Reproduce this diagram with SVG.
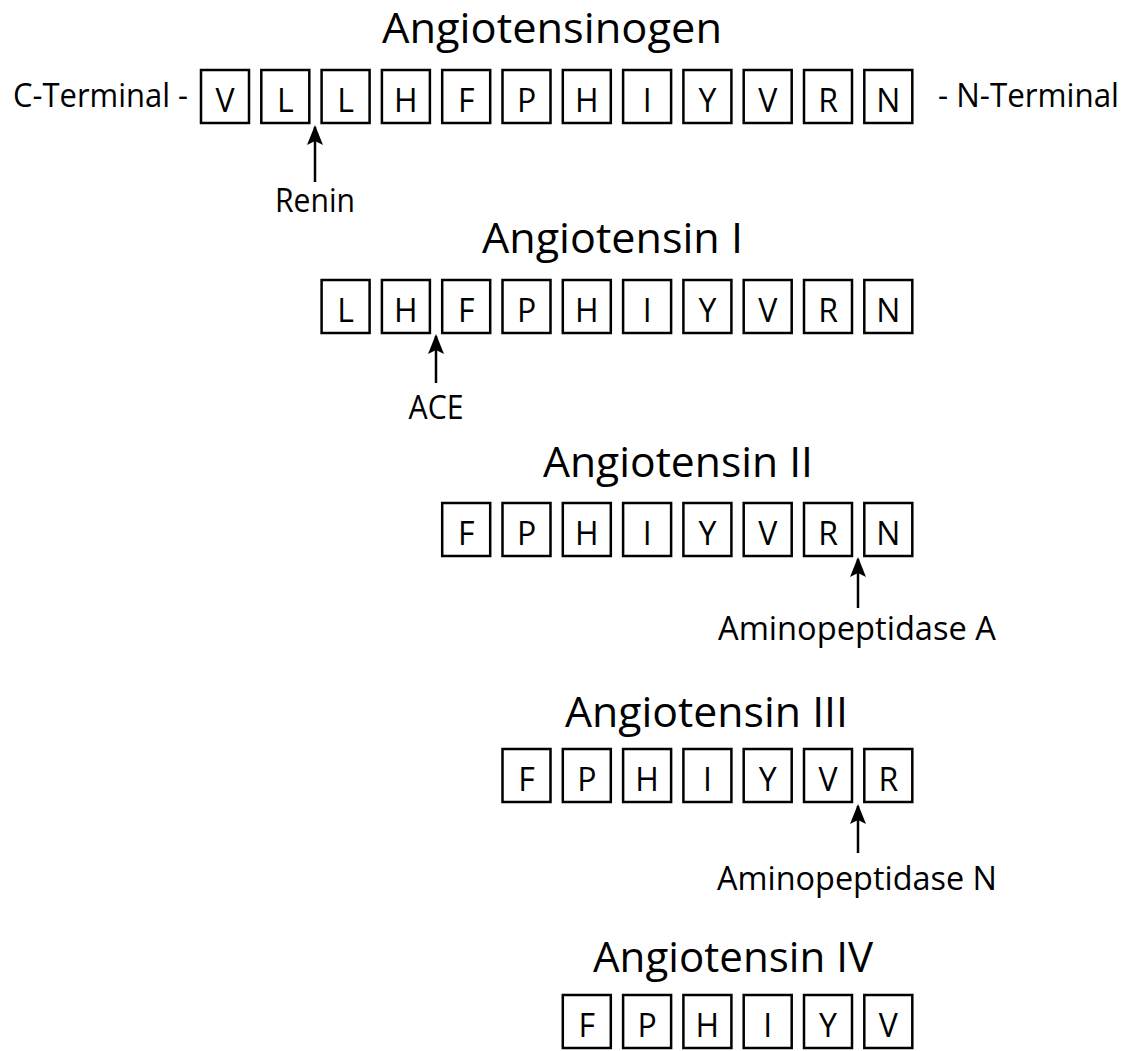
<svg xmlns="http://www.w3.org/2000/svg" width="1122" height="1051" viewBox="0 0 1122 1051">
  <style>
    .box rect { fill: #fff; stroke: #000; stroke-width: 2.5; }
    .box text { font-family: "Open Sans", "Noto Sans", sans-serif; font-size: 32px; text-anchor: middle; fill: #000; }
    .title { font-family: "Open Sans", "Noto Sans", sans-serif; font-size: 42px; fill: #000; }
    .label { font-family: "Open Sans", "Noto Sans", sans-serif; font-size: 32px; fill: #000; }
    .arrow { stroke: #000; stroke-width: 2.5; fill: none; marker-end: url(#head); }
  </style>
  <defs>
    <marker id="head" viewBox="0 0 20 16" refX="18" refY="8" markerWidth="20" markerHeight="16" markerUnits="userSpaceOnUse" orient="auto">
      <path d="M20,8 L0,0 L4,8 L0,16 Z" fill="#000"/>
    </marker>
    <!-- one residue cell: 48 x 53 -->
    <rect id="cell" width="48" height="53"/>
  </defs>
  <rect width="1122" height="1051" fill="#fff"/>

  <!-- Angiotensinogen -->
  <g id="angiotensinogen">
    <text class="title" x="382" y="43" textLength="340" lengthAdjust="spacingAndGlyphs">Angiotensinogen</text>
    <text class="label" x="13" y="107" textLength="175" lengthAdjust="spacingAndGlyphs">C-Terminal -</text>
    <text class="label" x="938" y="107" textLength="181" lengthAdjust="spacingAndGlyphs">- N-Terminal</text>
    <g class="box" transform="translate(0,70)">
      <rect x="201" width="48" height="53"/><text x="225" y="42">V</text>
      <rect x="261.3" width="48" height="53"/><text x="285.3" y="42">L</text>
      <rect x="321.6" width="48" height="53"/><text x="345.6" y="42">L</text>
      <rect x="381.9" width="48" height="53"/><text x="405.9" y="42">H</text>
      <rect x="442.2" width="48" height="53"/><text x="466.2" y="42">F</text>
      <rect x="502.5" width="48" height="53"/><text x="526.5" y="42">P</text>
      <rect x="562.8" width="48" height="53"/><text x="586.8" y="42">H</text>
      <rect x="623.1" width="48" height="53"/><text x="647.1" y="42">I</text>
      <rect x="683.4" width="48" height="53"/><text x="707.4" y="42">Y</text>
      <rect x="743.7" width="48" height="53"/><text x="767.7" y="42">V</text>
      <rect x="804" width="48" height="53"/><text x="828" y="42">R</text>
      <rect x="864.3" width="48" height="53"/><text x="888.3" y="42">N</text>
    </g>
  </g>

  <!-- Angiotensin I -->
  <g id="angiotensin-1">
    <text class="title" x="482" y="253" textLength="261" lengthAdjust="spacingAndGlyphs">Angiotensin I</text>
    <g class="box" transform="translate(0,280)">
      <rect x="321.6" width="48" height="53"/><text x="345.6" y="42">L</text>
      <rect x="381.9" width="48" height="53"/><text x="405.9" y="42">H</text>
      <rect x="442.2" width="48" height="53"/><text x="466.2" y="42">F</text>
      <rect x="502.5" width="48" height="53"/><text x="526.5" y="42">P</text>
      <rect x="562.8" width="48" height="53"/><text x="586.8" y="42">H</text>
      <rect x="623.1" width="48" height="53"/><text x="647.1" y="42">I</text>
      <rect x="683.4" width="48" height="53"/><text x="707.4" y="42">Y</text>
      <rect x="743.7" width="48" height="53"/><text x="767.7" y="42">V</text>
      <rect x="804" width="48" height="53"/><text x="828" y="42">R</text>
      <rect x="864.3" width="48" height="53"/><text x="888.3" y="42">N</text>
    </g>
  </g>

  <!-- Angiotensin II -->
  <g id="angiotensin-2">
    <text class="title" x="543" y="477" textLength="270" lengthAdjust="spacingAndGlyphs">Angiotensin II</text>
    <g class="box" transform="translate(0,503)">
      <rect x="442.2" width="48" height="53"/><text x="466.2" y="42">F</text>
      <rect x="502.5" width="48" height="53"/><text x="526.5" y="42">P</text>
      <rect x="562.8" width="48" height="53"/><text x="586.8" y="42">H</text>
      <rect x="623.1" width="48" height="53"/><text x="647.1" y="42">I</text>
      <rect x="683.4" width="48" height="53"/><text x="707.4" y="42">Y</text>
      <rect x="743.7" width="48" height="53"/><text x="767.7" y="42">V</text>
      <rect x="804" width="48" height="53"/><text x="828" y="42">R</text>
      <rect x="864.3" width="48" height="53"/><text x="888.3" y="42">N</text>
    </g>
  </g>

  <!-- Angiotensin III -->
  <g id="angiotensin-3">
    <text class="title" x="565" y="727" textLength="283" lengthAdjust="spacingAndGlyphs">Angiotensin III</text>
    <g class="box" transform="translate(0,749)">
      <rect x="502.5" width="48" height="53"/><text x="526.5" y="42">F</text>
      <rect x="562.8" width="48" height="53"/><text x="586.8" y="42">P</text>
      <rect x="623.1" width="48" height="53"/><text x="647.1" y="42">H</text>
      <rect x="683.4" width="48" height="53"/><text x="707.4" y="42">I</text>
      <rect x="743.7" width="48" height="53"/><text x="767.7" y="42">Y</text>
      <rect x="804" width="48" height="53"/><text x="828" y="42">V</text>
      <rect x="864.3" width="48" height="53"/><text x="888.3" y="42">R</text>
    </g>
  </g>

  <!-- Angiotensin IV -->
  <g id="angiotensin-4">
    <text class="title" x="593" y="972" textLength="280" lengthAdjust="spacingAndGlyphs">Angiotensin IV</text>
    <g class="box" transform="translate(0,995)">
      <rect x="562.8" width="48" height="53"/><text x="586.8" y="42">F</text>
      <rect x="623.1" width="48" height="53"/><text x="647.1" y="42">P</text>
      <rect x="683.4" width="48" height="53"/><text x="707.4" y="42">H</text>
      <rect x="743.7" width="48" height="53"/><text x="767.7" y="42">I</text>
      <rect x="804" width="48" height="53"/><text x="828" y="42">Y</text>
      <rect x="864.3" width="48" height="53"/><text x="888.3" y="42">V</text>
    </g>
  </g>

  <!-- Enzyme labels -->
  <g id="renin"><text class="label" x="315" y="212" text-anchor="middle" textLength="80" lengthAdjust="spacingAndGlyphs">Renin</text></g>
  <g id="ace"><text class="label" x="436" y="419" text-anchor="middle" textLength="55" lengthAdjust="spacingAndGlyphs">ACE</text></g>
  <g id="aminopeptidase-a"><text class="label" x="857" y="640" text-anchor="middle" textLength="278" lengthAdjust="spacingAndGlyphs">Aminopeptidase A</text></g>
  <g id="aminopeptidase-n"><text class="label" x="857" y="890" text-anchor="middle" textLength="280" lengthAdjust="spacingAndGlyphs">Aminopeptidase N</text></g>

  <!-- Cleavage-site arrows -->
  <g id="connectors">
    <line class="arrow" x1="315" y1="182" x2="315" y2="127"/>
    <line class="arrow" x1="436" y1="383" x2="436" y2="336"/>
    <line class="arrow" x1="858" y1="608" x2="858" y2="559"/>
    <line class="arrow" x1="858" y1="853" x2="858" y2="806"/>
  </g>
</svg>
